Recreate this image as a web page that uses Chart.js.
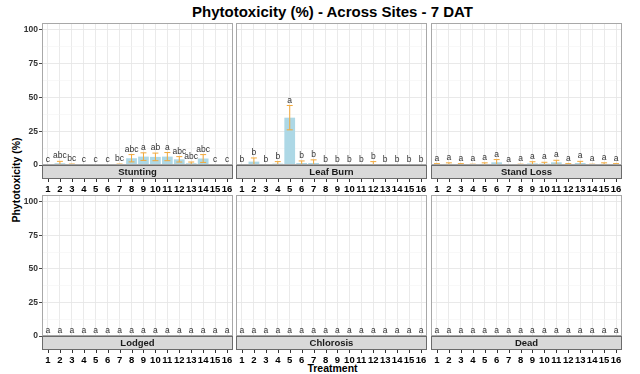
<!DOCTYPE html>
<html>
<head>
<meta charset="utf-8">
<script src="https://cdn.jsdelivr.net/npm/chart.js@4.4.1/dist/chart.umd.min.js"></script>
<style>
body { margin: 0; width: 640px; height: 374px; background: #fff; position: relative; overflow: hidden; font-family: "Liberation Sans", Arial, sans-serif; }
canvas { position: absolute; }
.lbl { position: absolute; font-weight: bold; color: #000; white-space: nowrap; }
</style>
</head>
<body>
<div class="lbl" style="left:0;width:665px;top:3px;text-align:center;font-size:15px;">Phytotoxicity (%) - Across Sites - 7 DAT</div>
<div class="lbl" style="left:16px;top:180px;font-size:10.5px;transform:translate(-50%,-50%) rotate(-90deg);">Phytotoxicity (%)</div>
<div class="lbl" style="left:0;width:665px;top:362px;text-align:center;font-size:10.5px;">Treatment</div>
<div id="wrap"></div>
<script>
const treatments = ['1', '2', '3', '4', '5', '6', '7', '8', '9', '10', '11', '12', '13', '14', '15', '16'];
const yTicks = [0, 25, 50, 75, 100];
const yMinorTicks = [12.5, 37.5, 62.5, 87.5];

const stuntingMean = [0, 1.3, 0.4, 0, 0, 0, 0.4, 5.0, 6.2, 6.0, 6.2, 4.2, 1.3, 4.8, 0, 0];
const stuntingSe = [0, 1.4, 0.3, 0, 0, 0, 0.3, 2.7, 2.8, 2.8, 3.0, 2.0, 0.9, 2.9, 0, 0];
const stuntingLetters = ['c', 'abc', 'bc', 'c', 'c', 'c', 'bc', 'abc', 'a', 'ab', 'a', 'abc', 'abc', 'abc', 'c', 'c'];

const leafBurnMean = [0, 2.5, 0, 1.0, 35, 1.5, 1.5, 0, 0, 0, 0, 0.7, 0, 0, 0, 0];
const leafBurnSe = [0, 2.7, 0, 1.5, 9, 1.5, 2.3, 0, 0, 0, 0, 1.8, 0, 0, 0, 0];
const leafBurnLetters = ['b', 'b', 'b', 'b', 'a', 'b', 'b', 'b', 'b', 'b', 'b', 'b', 'b', 'b', 'b', 'b'];

const standLossMean = [0.5, 0.8, 0.5, 0.3, 0.8, 2.0, 0, 0.3, 1.2, 1.0, 2.0, 0.5, 1.5, 0.3, 0.8, 0.5];
const standLossSe = [0.5, 0.8, 0.5, 0.3, 0.8, 2.0, 0, 0.3, 1.2, 1.0, 1.5, 0.5, 1.2, 0.3, 0.8, 0.5];
const standLossLetters = ['a', 'a', 'a', 'a', 'a', 'a', 'a', 'a', 'a', 'a', 'a', 'a', 'a', 'a', 'a', 'a'];

const lodgedMean = [0, 0, 0, 0, 0, 0, 0, 0, 0, 0, 0, 0, 0, 0, 0, 0];
const lodgedSe = [0, 0, 0, 0, 0, 0, 0, 0, 0, 0, 0, 0, 0, 0, 0, 0];
const lodgedLetters = ['a', 'a', 'a', 'a', 'a', 'a', 'a', 'a', 'a', 'a', 'a', 'a', 'a', 'a', 'a', 'a'];

const chlorosisMean = [0, 0, 0, 0, 0, 0, 0, 0, 0, 0, 0, 0, 0, 0, 0, 0];
const chlorosisSe = [0, 0, 0, 0, 0, 0, 0, 0, 0, 0, 0, 0, 0, 0, 0, 0];
const chlorosisLetters = ['a', 'a', 'a', 'a', 'a', 'a', 'a', 'a', 'a', 'a', 'a', 'a', 'a', 'a', 'a', 'a'];

const deadMean = [0, 0, 0, 0, 0, 0, 0, 0, 0, 0, 0, 0, 0, 0, 0, 0];
const deadSe = [0, 0, 0, 0, 0, 0, 0, 0, 0, 0, 0, 0, 0, 0, 0, 0];
const deadLetters = ['a', 'a', 'a', 'a', 'a', 'a', 'a', 'a', 'a', 'a', 'a', 'a', 'a', 'a', 'a', 'a'];

const panels = [
    { name: 'Stunting', mean: stuntingMean, se: stuntingSe, letters: stuntingLetters },
    { name: 'Leaf Burn', mean: leafBurnMean, se: leafBurnSe, letters: leafBurnLetters },
    { name: 'Stand Loss', mean: standLossMean, se: standLossSe, letters: standLossLetters },
    { name: 'Lodged', mean: lodgedMean, se: lodgedSe, letters: lodgedLetters },
    { name: 'Chlorosis', mean: chlorosisMean, se: chlorosisSe, letters: chlorosisLetters },
    { name: 'Dead', mean: deadMean, se: deadSe, letters: deadLetters }
];

// layout of the facet grid
const panelLeft = [42, 236, 431];
const panelWidth = 191;
const rowTop = [23, 195];
const areaHeight = [142, 141];
const yAxisWidth = 22;
const xAxisHeight = 30;
const stripHeight = 14;
const pad = { top: 8, left: 4, right: 4 };

const barColor = '#add8e6';
const errColor = '#f2a93b';

const facetPlugin = {
    id: 'facet',
    afterDatasetsDraw(chart, args, opts) {
        const { ctx, chartArea: a, scales: { x, y } } = chart;
        const p = opts.panel;
        const step = x.getPixelForValue(1) - x.getPixelForValue(0);
        ctx.save();

        // error bars + letters
        p.mean.forEach((m, i) => {
            const se = p.se[i];
            const cx = x.getPixelForValue(i);
            if (se > 0) {
                const top = y.getPixelForValue(m + se);
                const bot = y.getPixelForValue(Math.max(0, m - se));
                const half = step * 0.25;
                ctx.strokeStyle = errColor;
                ctx.lineWidth = 1;
                ctx.beginPath();
                ctx.moveTo(cx, top); ctx.lineTo(cx, bot);
                ctx.moveTo(cx - half, top); ctx.lineTo(cx + half, top);
                ctx.moveTo(cx - half, bot); ctx.lineTo(cx + half, bot);
                ctx.stroke();
            }
            ctx.fillStyle = '#333';
            ctx.font = '8.5px "Liberation Sans", Arial, sans-serif';
            ctx.textAlign = 'center';
            ctx.textBaseline = 'bottom';
            ctx.fillText(p.letters[i], cx, y.getPixelForValue(m + se) - 1);
        });

        // panel border
        ctx.strokeStyle = '#a8a8a8';
        ctx.lineWidth = 1;
        ctx.strokeRect(a.left + 0.5, a.top + 0.5, a.width - 1, a.height - 1);

        // strip under the panel
        ctx.fillStyle = '#d9d9d9';
        ctx.fillRect(a.left, a.bottom, a.width, stripHeight);
        ctx.strokeStyle = '#6b6b6b';
        ctx.strokeRect(a.left + 0.5, a.bottom + 0.5, a.width - 1, stripHeight - 1);
        ctx.fillStyle = '#1a1a1a';
        ctx.font = 'bold 9.5px "Liberation Sans", Arial, sans-serif';
        ctx.textBaseline = 'middle';
        ctx.fillText(p.name, (a.left + a.right) / 2, a.bottom + stripHeight / 2 + 0.5);

        // x tick marks below strip
        ctx.strokeStyle = '#333';
        ctx.beginPath();
        treatments.forEach((t, i) => {
            const cx = Math.round(x.getPixelForValue(i)) + 0.5;
            ctx.moveTo(cx, a.bottom + stripHeight);
            ctx.lineTo(cx, a.bottom + stripHeight + 3);
        });
        ctx.stroke();
        ctx.restore();
    }
};

const wrap = document.getElementById('wrap');

panels.forEach((p, k) => {
    const row = Math.floor(k / 3);
    const col = k % 3;
    const yw = col === 0 ? yAxisWidth : 0;
    const canvas = document.createElement('canvas');
    const w = pad.left + yw + panelWidth + pad.right;
    const h = pad.top + areaHeight[row] + xAxisHeight;
    canvas.width = w;
    canvas.height = h;
    canvas.style.width = w + 'px';
    canvas.style.height = h + 'px';
    canvas.style.left = (panelLeft[col] - pad.left - yw) + 'px';
    canvas.style.top = (rowTop[row] - pad.top) + 'px';
    wrap.appendChild(canvas);

    new Chart(canvas.getContext('2d'), {
        type: 'bar',
        data: {
            labels: treatments,
            datasets: [{
                data: p.mean,
                backgroundColor: barColor,
                borderWidth: 0,
                barPercentage: 0.9,
                categoryPercentage: 1
            }]
        },
        options: {
            responsive: false,
            animation: false,
            devicePixelRatio: 1,
            layout: { padding: { top: pad.top, left: pad.left, right: pad.right, bottom: 0 } },
            plugins: {
                legend: { display: false },
                tooltip: { enabled: false },
                facet: { panel: p }
            },
            scales: {
                x: {
                    offset: true,
                    border: { display: false },
                    grid: { offset: false, color: '#e8e8e8', lineWidth: 0.9, drawTicks: false },
                    ticks: {
                        autoSkip: false,
                        maxRotation: 0,
                        padding: 19,
                        color: '#000',
                        font: { family: '"Liberation Sans", Arial, sans-serif', size: 9.5, weight: 'bold' }
                    },
                    afterFit: scale => {
                        scale.height = xAxisHeight;
                        scale.paddingLeft = 0;
                        scale.paddingRight = 0;
                    }
                },
                y: {
                    min: 0,
                    max: 105,
                    border: { display: false },
                    afterBuildTicks: scale => {
                        scale.ticks = yTicks.concat(yMinorTicks).sort((a, b) => a - b).map(v => ({ value: v }));
                    },
                    grid: {
                        color: c => yTicks.includes(c.tick.value) ? '#e6e6e6' : '#f3f3f3',
                        lineWidth: c => yTicks.includes(c.tick.value) ? 0.9 : 0.6,
                        drawTicks: col === 0,
                        tickLength: 3,
                        tickColor: c => yTicks.includes(c.tick.value) ? '#333' : 'rgba(0,0,0,0)'
                    },
                    ticks: {
                        display: col === 0,
                        padding: 1,
                        color: '#333',
                        font: { family: '"Liberation Sans", Arial, sans-serif', size: 8.5, weight: 'bold' },
                        callback: v => yTicks.includes(v) ? String(v) : ''
                    },
                    afterFit: scale => {
                        scale.width = yw;
                        scale.paddingTop = 0;
                        scale.paddingBottom = 0;
                    }
                }
            }
        },
        plugins: [facetPlugin]
    });
});
</script>
</body>
</html>
